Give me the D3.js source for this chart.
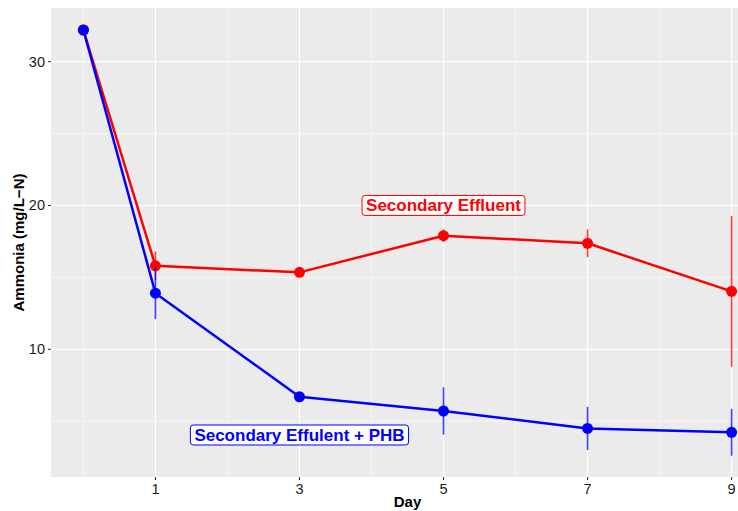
<!DOCTYPE html>
<html lang="en">
<head>
<meta charset="UTF-8">
<title>Ammonia</title>
<script src="https://cdn.jsdelivr.net/npm/d3@7"></script>
<style>
    body{ margin:0; background:#fff; }
    text{ font-family: "Liberation Sans", Arial, sans-serif; }
    .panel{ fill:#EBEBEB; }
    .grid-major{ stroke:#fff; stroke-width:1.2; }
    .grid-minor{ stroke:#fff; stroke-width:0.6; }
    .tick-mark{ stroke:#333; stroke-width:1.1; }
    .tick-label{ font-size:14.5px; fill:#1a1a1a; }
    .axis-title{ font-size:15px; font-weight:bold; fill:#000; }
    .series-line{ fill:none; stroke-width:2.5; stroke-linejoin:round; }
    .err{ stroke-width:1.6; stroke-opacity:0.75; }
    .lab-text{ font-size:17px; font-weight:bold; }
</style>
</head>
<body>
<div id="root"></div>
<script>
    // data
    const days = [0, 1, 3, 5, 7, 9]
    const secondaryMean = [32.2, 15.8, 15.35, 17.9, 17.37, 14.03]
    const secondarySd   = [0, 1.0, 0.2, 0.45, 0.97, 5.24]
    const phbMean = [32.2, 13.9, 6.7, 5.71, 4.5, 4.23]
    const phbSd   = [0, 1.8, 0.15, 1.64, 1.5, 1.63]
    const xTicks = [1, 3, 5, 7, 9]
    const xMinor = [0, 2, 4, 6, 8, 10]
    const yTicks = [10, 20, 30]
    const yMinor = [5, 15, 25]
    const seriesNames = ["Secondary Effluent", "Secondary Effulent + PHB"]
    const seriesColors = ["#FF0000", "#0000FF"]
    const labelPos = [{x: 5, y: 20}, {x: 3, y: 4.04}]

    let width = 738
    let height = 511
    // panel box, runs past the right edge like the original
    let pLeft = 51, pRight = 764, pTop = 8, pBottom = 477

    let svg = d3.select("#root").append("svg").attr("width", width).attr("height", height)

    let xScale = d3.scaleLinear().domain([-0.45, 9.45]).range([pLeft, pRight])
    let yScale = d3.scaleLinear().domain([1.12, 33.73]).range([pBottom, pTop])

    const series = [
        days.map((d, i) => ({x: d, y: secondaryMean[i], sd: secondarySd[i]})),
        days.map((d, i) => ({x: d, y: phbMean[i], sd: phbSd[i]}))
    ]

    const renderPanel = () => {
        svg.append("rect").attr("class", "panel")
            .attr("x", pLeft).attr("y", pTop)
            .attr("width", pRight - pLeft).attr("height", pBottom - pTop)

        svg.append("g").selectAll("line").data(xMinor).enter().append("line")
            .attr("class", "grid-minor")
            .attr("x1", d => xScale(d)).attr("x2", d => xScale(d))
            .attr("y1", pTop).attr("y2", pBottom)
        svg.append("g").selectAll("line").data(yMinor).enter().append("line")
            .attr("class", "grid-minor")
            .attr("x1", pLeft).attr("x2", pRight)
            .attr("y1", d => yScale(d)).attr("y2", d => yScale(d))
        svg.append("g").selectAll("line").data(xTicks).enter().append("line")
            .attr("class", "grid-major")
            .attr("x1", d => xScale(d)).attr("x2", d => xScale(d))
            .attr("y1", pTop).attr("y2", pBottom)
        svg.append("g").selectAll("line").data(yTicks).enter().append("line")
            .attr("class", "grid-major")
            .attr("x1", pLeft).attr("x2", pRight)
            .attr("y1", d => yScale(d)).attr("y2", d => yScale(d))
    }

    const renderAxes = () => {
        // x axis
        let gx = svg.append("g")
        gx.selectAll("line").data(xTicks).enter().append("line")
            .attr("class", "tick-mark")
            .attr("x1", d => xScale(d)).attr("x2", d => xScale(d))
            .attr("y1", pBottom).attr("y2", pBottom + 3)
        gx.selectAll("text").data(xTicks).enter().append("text")
            .attr("class", "tick-label")
            .attr("x", d => xScale(d)).attr("y", pBottom + 17)
            .attr("text-anchor", "middle")
            .text(d => d)
        svg.append("text").attr("class", "axis-title")
            .attr("x", (pLeft + pRight) / 2).attr("y", 507)
            .attr("text-anchor", "middle")
            .text("Day")

        // y axis
        let gy = svg.append("g")
        gy.selectAll("line").data(yTicks).enter().append("line")
            .attr("class", "tick-mark")
            .attr("x1", pLeft - 3).attr("x2", pLeft)
            .attr("y1", d => yScale(d)).attr("y2", d => yScale(d))
        gy.selectAll("text").data(yTicks).enter().append("text")
            .attr("class", "tick-label")
            .attr("x", pLeft - 6).attr("y", d => yScale(d) + 5)
            .attr("text-anchor", "end")
            .text(d => d)
        svg.append("text").attr("class", "axis-title")
            .attr("transform", `translate(24,${(pTop + pBottom) / 2}) rotate(-90)`)
            .attr("text-anchor", "middle")
            .text("Ammonia (mg/L\u2212N)")
    }

    const renderSeries = () => {
        let line = d3.line().x(d => xScale(d.x)).y(d => yScale(d.y))
        series.forEach((data, index) => {
            let g = svg.append("g")
            let color = seriesColors[index]
            g.selectAll("line.err").data(data.filter(d => d.sd > 0)).enter().append("line")
                .attr("class", "err")
                .attr("stroke", color)
                .attr("x1", d => xScale(d.x)).attr("x2", d => xScale(d.x))
                .attr("y1", d => yScale(d.y + d.sd)).attr("y2", d => yScale(d.y - d.sd))
            g.append("path").datum(data)
                .attr("class", "series-line")
                .attr("stroke", color)
                .attr("d", line)
            g.selectAll("circle").data(data).enter().append("circle")
                .attr("cx", d => xScale(d.x)).attr("cy", d => yScale(d.y))
                .attr("r", 5.5)
                .attr("fill", color)
        })
    }

    const renderLabels = () => {
        seriesNames.forEach((name, index) => {
            let g = svg.append("g")
                .attr("transform", `translate(${xScale(labelPos[index].x)},${yScale(labelPos[index].y)})`)
            let t = g.append("text").attr("class", "lab-text")
                .attr("fill", seriesColors[index])
                .attr("text-anchor", "middle")
                .attr("y", 6)
                .text(name)
            let w = t.node().getComputedTextLength()
            g.insert("rect", "text")
                .attr("x", -w / 2 - 4).attr("y", -10)
                .attr("width", w + 8).attr("height", 20)
                .attr("rx", 3)
                .attr("fill", "#fff")
                .attr("stroke", seriesColors[index])
                .attr("stroke-width", 1)
        })
    }

    renderPanel()
    renderAxes()
    renderSeries()
    renderLabels()
</script>
</body>
</html>
